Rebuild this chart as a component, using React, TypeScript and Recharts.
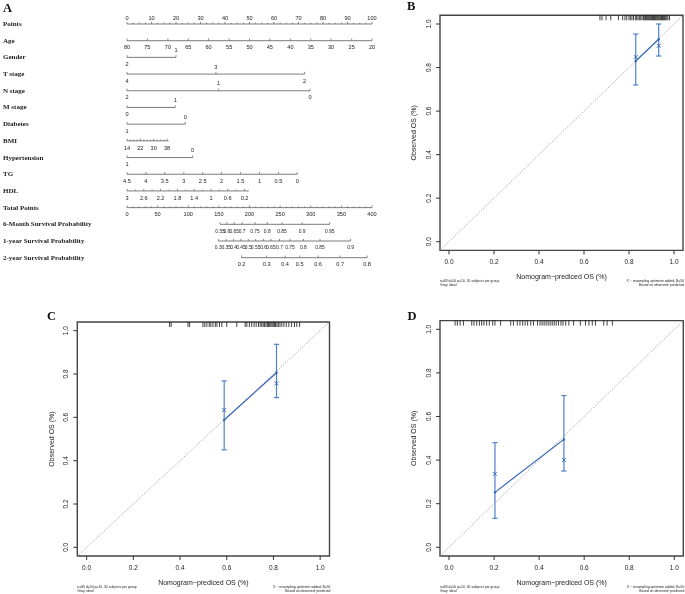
import React from "react";
import { ScatterChart, Scatter, XAxis, YAxis, ReferenceLine, ReferenceArea, Label } from "recharts";

const SANS = '"Liberation Sans", Arial, sans-serif';
const SERIF = '"Liberation Serif", "Times New Roman", serif';
const INK = "#222";
const BLUE = "#3464b6";
const BAR_BLUE = "#5080cb";

// ---------- panel A: nomogram ----------
const rowNames = [
  "Points", "Age", "Gender", "T stage", "N stage", "M stage", "Diabetes", "BMI", "Hypertension",
  "TG", "HDL", "Total Points", "6-Month Survival Probability", "1-year Survival Probability", "2-year Survival Probability",
];

const pointsLabels = ["0", "10", "20", "30", "40", "50", "60", "70", "80", "90", "100"];
const pointsPos = [0, 10, 20, 30, 40, 50, 60, 70, 80, 90, 100];
const ageLabels = ["80", "75", "70", "65", "60", "55", "50", "45", "40", "35", "30", "25", "20"];
const agePos = [0, 8.3, 16.7, 25, 33.3, 41.7, 50, 58.3, 66.7, 75, 83.3, 91.7, 100];
const genderLabels = ["2", "1"];
const genderPos = [0, 20];
const tStageLabels = ["4", "3", "2"];
const tStagePos = [0, 36.3, 72.5];
const nStageLabels = ["2", "1", "0"];
const nStagePos = [0, 37.4, 74.7];
const mStageLabels = ["0", "1"];
const mStagePos = [0, 19.7];
const diabetesLabels = ["1", "0"];
const diabetesPos = [0, 23.8];
const bmiLabels = ["14", "22", "30", "38"];
const bmiPos = [0, 5.45, 10.9, 16.35];
const bmiEnd = 17.0;
const htnLabels = ["1", "0"];
const htnPos = [0, 26.8];
const tgLabels = ["4.5", "4", "3.5", "3", "2.5", "2", "1.5", "1", "0.5", "0"];
const tgPos = [0, 7.7, 15.4, 23.2, 30.9, 38.6, 46.3, 54.1, 61.8, 69.5];
const hdlLabels = ["3", "2.6", "2.2", "1.8", "1.4", "1", "0.6", "0.2"];
const hdlPos = [0, 6.86, 13.7, 20.6, 27.4, 34.3, 41.1, 48];
const hdlEnd = 49.7;
const totalLabels = ["0", "50", "100", "150", "200", "250", "300", "350", "400"];
const totalPos = [0, 50, 100, 150, 200, 250, 300, 350, 400];
const surv6Labels = ["0.55", "0.6", "0.65", "0.7", "0.75", "0.8", "0.85", "0.9", "0.95"];
const surv6Total = [152, 163, 175, 188, 209, 229, 253, 286, 331];
const surv12Labels = ["0.3", "0.35", "0.4", "0.45", "0.5", "0.55", "0.6", "0.65", "0.7", "0.75", "0.8", "0.85", "0.9"];
const surv12Total = [149, 162, 174, 186, 198, 210, 223, 235, 249, 266, 288, 315, 365];
const surv24Labels = ["0.2", "0.3", "0.4", "0.5", "0.6", "0.7", "0.8"];
const surv24Total = [187, 228, 258, 282, 312, 348, 392];

type RowSpec = {
  labels: string[];
  pos: number[];
  axis: "pts" | "total";
  place: "top" | "below" | "alt";
  sub?: number;
  end?: number;
  small?: boolean;
};

const rowSpecs: RowSpec[] = [
  { labels: pointsLabels, pos: pointsPos, axis: "pts", place: "top", sub: 4 },
  { labels: ageLabels, pos: agePos, axis: "pts", place: "below" },
  { labels: genderLabels, pos: genderPos, axis: "pts", place: "alt" },
  { labels: tStageLabels, pos: tStagePos, axis: "pts", place: "alt" },
  { labels: nStageLabels, pos: nStagePos, axis: "pts", place: "alt" },
  { labels: mStageLabels, pos: mStagePos, axis: "pts", place: "alt" },
  { labels: diabetesLabels, pos: diabetesPos, axis: "pts", place: "alt" },
  { labels: bmiLabels, pos: bmiPos, axis: "pts", place: "below", sub: 4, end: bmiEnd },
  { labels: htnLabels, pos: htnPos, axis: "pts", place: "alt" },
  { labels: tgLabels, pos: tgPos, axis: "pts", place: "below" },
  { labels: hdlLabels, pos: hdlPos, axis: "pts", place: "below", sub: 2, end: hdlEnd },
  { labels: totalLabels, pos: totalPos, axis: "total", place: "below", sub: 5 },
  { labels: surv6Labels, pos: surv6Total, axis: "total", place: "below", small: true },
  { labels: surv12Labels, pos: surv12Total, axis: "total", place: "below", small: true },
  { labels: surv24Labels, pos: surv24Total, axis: "total", place: "below" },
];

const rowTicks = rowNames.map((_, i) => i);

function buildRow(spec: RowSpec, row: number) {
  const out: any[] = [];
  spec.pos.forEach((p, i) => {
    const side = spec.place === "top" ? "top" : spec.place === "alt" && i % 2 === 1 ? "above" : "below";
    out.push({ x: p, y: row, label: spec.labels[i], kind: "major", side, small: spec.small });
    if (spec.sub && i < spec.pos.length - 1) {
      for (let k = 1; k < spec.sub; k++) {
        out.push({ x: p + ((spec.pos[i + 1] - p) * k) / spec.sub, y: row, kind: "minor" });
      }
    }
  });
  if (spec.end != null) out.push({ x: spec.end, y: row, kind: "end" });
  return out.sort((a, b) => a.x - b.x);
}

const NomoTick = (props: any) => {
  const { cx, cy, payload } = props;
  if (payload.kind === "end") return <g />;
  const h = payload.kind === "major" ? 2.2 : 1.3;
  const dy = payload.side === "top" ? -6.3 : payload.side === "above" ? -7.3 : 6.7;
  return (
    <g>
      <line x1={cx} x2={cx} y1={cy} y2={cy - h} stroke="#444" strokeWidth={0.6} />
      {payload.label != null && (
        <text
          x={cx}
          y={cy + dy}
          textAnchor="middle"
          dominantBaseline="central"
          fontSize={payload.small ? 4.9 : 5.6}
          fill={INK}
          fontFamily={SANS}
        >
          {payload.label}
        </text>
      )}
    </g>
  );
};

const RowName = (props: any) => (
  <text x={3} y={props.y} dominantBaseline="central" fontSize={7} fontWeight="bold" fontFamily={SERIF} fill={INK}>
    {rowNames[props.payload.value]}
  </text>
);

function Nomogram() {
  const rows = rowSpecs.map((s, i) => buildRow(s, i));
  return (
    <div style={{ position: "absolute", left: 0, top: 0 }}>
      <ScatterChart width={390} height={280} margin={{ top: 24, right: 18, bottom: 22.3, left: 0 }}>
        <XAxis xAxisId="pts" type="number" dataKey="x" domain={[0, 100]} hide />
        <XAxis xAxisId="total" type="number" dataKey="x" domain={[0, 400]} hide />
        <YAxis
          type="number"
          dataKey="y"
          domain={[0, 14]}
          reversed
          ticks={rowTicks}
          interval={0}
          width={127}
          axisLine={false}
          tickLine={false}
          tick={RowName}
        />
        {rows.map((data, i) => (
          <Scatter
            key={i}
            xAxisId={rowSpecs[i].axis}
            data={data}
            line={{ stroke: "#444", strokeWidth: 0.7 }}
            shape={NomoTick}
            isAnimationActive={false}
          />
        ))}
      </ScatterChart>
    </div>
  );
}

// ---------- panels B, C, D: calibration ----------
const calTicks = [0, 0.2, 0.4, 0.6, 0.8, 1];
const LOW = -0.04;
const TOP = 1.04;

const bPred = [0.83, 0.932];
const bObs = [0.83, 0.93];
const bLo = [0.72, 0.853];
const bHi = [0.954, 1.0];
const bCorr = [0.848, 0.9];
const bRug = [
  0.671, 0.68, 0.698, 0.719, 0.753, 0.772, 0.782, 0.79, 0.8, 0.806, 0.813, 0.82, 0.828, 0.834, 0.84, 0.846,
  0.852, 0.858, 0.864, 0.868, 0.873, 0.877, 0.881, 0.885, 0.889, 0.893, 0.897, 0.901, 0.905, 0.909, 0.913,
  0.917, 0.921, 0.925, 0.929, 0.933, 0.937, 0.941, 0.945, 0.949, 0.953, 0.958, 0.963, 0.968, 0.973, 0.98,
];

const cPred = [0.589, 0.813];
const cObs = [0.588, 0.806];
const cLo = [0.45, 0.691];
const cHi = [0.768, 0.937];
const cCorr = [0.634, 0.757];
const cRug = [
  0.355, 0.362, 0.434, 0.441, 0.498, 0.506, 0.515, 0.525, 0.532, 0.541, 0.551, 0.558, 0.569, 0.579, 0.6,
  0.643, 0.679, 0.686, 0.697, 0.707, 0.717, 0.726, 0.736, 0.743, 0.75, 0.756, 0.762, 0.768, 0.774, 0.779,
  0.784, 0.789, 0.794, 0.799, 0.804, 0.809, 0.815, 0.821, 0.828, 0.836, 0.845, 0.855, 0.866, 0.878, 0.89,
  0.9, 0.912,
];

const dPred = [0.204, 0.51];
const dObs = [0.252, 0.495];
const dLo = [0.133, 0.35];
const dHi = [0.48, 0.696];
const dCorr = [0.337, 0.4];
const dRug = [
  0.027, 0.037, 0.049, 0.064, 0.101, 0.111, 0.123, 0.135, 0.145, 0.155, 0.167, 0.179, 0.194, 0.204, 0.229,
  0.274, 0.286, 0.303, 0.315, 0.327, 0.338, 0.349, 0.363, 0.375, 0.393, 0.404, 0.413, 0.422, 0.431, 0.44,
  0.449, 0.458, 0.467, 0.476, 0.486, 0.497, 0.506, 0.518, 0.532, 0.553, 0.583, 0.606, 0.621, 0.636, 0.65,
  0.687, 0.702, 0.725,
];

const RugTick = (props: any) => (
  <line x1={props.cx} x2={props.cx} y1={props.cy} y2={props.cy + 5} stroke="#111" strokeWidth={0.8} />
);
const CurveDot = (props: any) => <circle cx={props.cx} cy={props.cy} r={1.2} fill={BLUE} />;
const Cap = (props: any) => (
  <line x1={props.cx - 2.6} x2={props.cx + 2.6} y1={props.cy} y2={props.cy} stroke={BAR_BLUE} strokeWidth={1.2} />
);
const Cross = (props: any) => {
  const { cx, cy } = props;
  const s = 2;
  return (
    <g stroke={BLUE} strokeWidth={0.9}>
      <line x1={cx - s} y1={cy - s} x2={cx + s} y2={cy + s} />
      <line x1={cx - s} y1={cy + s} x2={cx + s} y2={cy - s} />
    </g>
  );
};

const VTick = (props: any) => {
  const { x, y, payload } = props;
  return (
    <text x={x} y={y} transform={`rotate(-90 ${x} ${y})`} textAnchor="middle" fontSize={6.5} fill={INK} fontFamily={SANS}>
      {Number(payload.value).toFixed(1)}
    </text>
  );
};

const XTitle = (props: any) => {
  const { x, y, width } = props.viewBox;
  const note = { fontSize: 3.4, fill: INK, fontFamily: SANS, dominantBaseline: "central" as const };
  return (
    <g>
      <text x={x + width / 2} y={y + 26.5} textAnchor="middle" dominantBaseline="central" fontSize={7} fill={INK} fontFamily={SANS}>
        Nomogram−prediced OS (%)
      </text>
      <text x={x} y={y + 30.5} {...note}>n=83 d=50 p=10, 30 subjects per group</text>
      <text x={x} y={y + 34.6} {...note}>Gray: ideal</text>
      <text x={x + width + 1} y={y + 30.5} textAnchor="end" {...note}>X − resampling optimism added, B=50</text>
      <text x={x + width + 1} y={y + 34.6} textAnchor="end" {...note}>Based on observed−predicted</text>
    </g>
  );
};

const YTitle = (props: any) => {
  const { x, y, width, height } = props.viewBox;
  const cx = x + width - 26;
  const cy = y + height / 2;
  return (
    <text x={cx} y={cy} transform={`rotate(-90 ${cx} ${cy})`} textAnchor="middle" dominantBaseline="central" fontSize={7} fill={INK} fontFamily={SANS}>
      Observed OS (%)
    </text>
  );
};

type CalProps = {
  left: number;
  top: number;
  width: number;
  height: number;
  padTop: number;
  padRight: number;
  yWidth: number;
  xHeight: number;
  pred: number[];
  obs: number[];
  lo: number[];
  hi: number[];
  corr: number[];
  rug: number[];
};

function CalibrationPlot(p: CalProps) {
  const curve = p.pred.map((x, i) => ({ x, y: p.obs[i] }));
  const corrected = p.pred.map((x, i) => ({ x, y: p.corr[i] }));
  const bars = p.pred.map((x, i) => [{ x, y: p.lo[i] }, { x, y: p.hi[i] }]);
  const rugData = p.rug.map((x) => ({ x, y: TOP }));
  return (
    <div style={{ position: "absolute", left: p.left, top: p.top }}>
      <ScatterChart width={p.width} height={p.height} margin={{ top: p.padTop, right: p.padRight, bottom: 0, left: 0 }}>
        <XAxis
          type="number"
          dataKey="x"
          domain={[LOW, TOP]}
          ticks={calTicks}
          interval={0}
          height={p.xHeight}
          axisLine={false}
          tickLine={{ stroke: "#333" }}
          tickSize={4}
          tickMargin={5}
          tick={{ fontSize: 6.5, fill: INK, fontFamily: SANS }}
          tickFormatter={(v: number) => v.toFixed(1)}
        >
          <Label content={XTitle} />
        </XAxis>
        <YAxis
          type="number"
          dataKey="y"
          domain={[LOW, TOP]}
          ticks={calTicks}
          interval={0}
          width={p.yWidth}
          axisLine={false}
          tickLine={{ stroke: "#333" }}
          tickSize={4}
          tickMargin={5}
          tick={VTick}
        >
          <Label content={YTitle} />
        </YAxis>
        <ReferenceArea x1={LOW} x2={TOP} y1={LOW} y2={TOP} fill="none" fillOpacity={0} stroke="#444" strokeWidth={1.4} />
        <ReferenceLine
          segment={[{ x: LOW, y: LOW }, { x: TOP, y: TOP }]}
          stroke="#888"
          strokeDasharray="1 1.6"
          strokeWidth={0.9}
        />
        <Scatter data={rugData} shape={RugTick} isAnimationActive={false} />
        {bars.map((bar, i) => (
          <Scatter
            key={`bar${i}`}
            data={bar}
            line={{ stroke: BAR_BLUE, strokeWidth: 1.2 }}
            shape={Cap}
            isAnimationActive={false}
          />
        ))}
        <Scatter data={curve} line={{ stroke: BLUE, strokeWidth: 1.2 }} shape={CurveDot} isAnimationActive={false} />
        <Scatter data={corrected} shape={Cross} isAnimationActive={false} />
      </ScatterChart>
    </div>
  );
}

const letterStyle = { fontFamily: SERIF, fontWeight: "bold" as const, fontSize: 12.5, fill: "#111" };

export default function App() {
  return (
    <div style={{ position: "absolute", left: 0, top: 0, width: 685, height: 594, overflow: "hidden", willChange: "transform" }}>
      <Nomogram />
      <CalibrationPlot
        left={390} top={0} width={295} height={300} padTop={15.3} padRight={2} yWidth={50} xHeight={49.6}
        pred={bPred} obs={bObs} lo={bLo} hi={bHi} corr={bCorr} rug={bRug}
      />
      <CalibrationPlot
        left={0} top={300} width={340} height={294} padTop={22} padRight={10.5} yWidth={77.3} xHeight={38}
        pred={cPred} obs={cObs} lo={cLo} hi={cHi} corr={cCorr} rug={cRug}
      />
      <CalibrationPlot
        left={340} top={300} width={345} height={294} padTop={20.6} padRight={1.7} yWidth={100} xHeight={38}
        pred={dPred} obs={dObs} lo={dLo} hi={dHi} corr={dCorr} rug={dRug}
      />
      <svg width={685} height={594} style={{ position: "absolute", left: 0, top: 0, pointerEvents: "none" }}>
        <text x={3} y={11.7} {...letterStyle}>A</text>
        <text x={407} y={10.2} {...letterStyle}>B</text>
        <text x={47} y={320.3} {...letterStyle}>C</text>
        <text x={407.5} y={320} {...letterStyle}>D</text>
      </svg>
    </div>
  );
}
